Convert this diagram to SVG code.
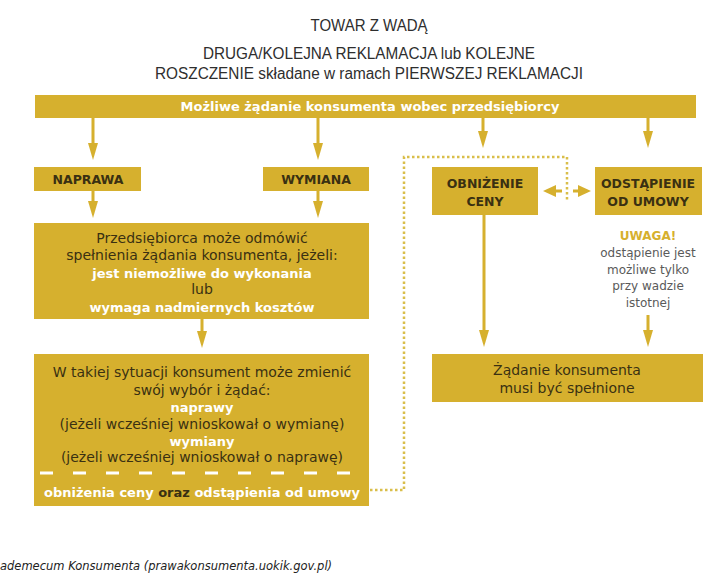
<svg xmlns="http://www.w3.org/2000/svg" width="718" height="583" viewBox="0 0 718 583">
<style>
.box{fill:#d6b02e}
.t{font-family:"DejaVu Sans",Verdana,sans-serif;font-size:14px;fill:#3a3012;text-anchor:middle}
.w{fill:#ffffff;font-weight:bold;font-size:13px}
.b{font-weight:bold;font-size:12.5px}
.h{font-family:"Liberation Sans",Arial,sans-serif;font-size:16px;fill:#2e2e2e;text-anchor:middle}
.g{fill:#5a5a5a;font-size:12px}
.ln{stroke:#d6b02e;stroke-width:3;fill:none}
.hd{fill:#d6b02e}
.dot{stroke:#d9be4a;stroke-width:2.5;fill:none;stroke-dasharray:2.5 2.5}
</style>
<rect width="718" height="583" fill="#ffffff"/>
<g id="title">
<text class="h" x="369" y="31" textLength="117" lengthAdjust="spacingAndGlyphs">TOWAR Z WADĄ</text>
<text class="h" x="369" y="59" textLength="332" lengthAdjust="spacingAndGlyphs">DRUGA/KOLEJNA REKLAMACJA lub KOLEJNE</text>
<text class="h" x="369" y="79" textLength="428" lengthAdjust="spacingAndGlyphs">ROSZCZENIE składane w ramach PIERWSZEJ REKLAMACJI</text>
</g>
<g id="bar">
<rect class="box" x="35" y="95" width="661" height="23"/>
<text class="t w" x="370" y="111">Możliwe żądanie konsumenta wobec przedsiębiorcy</text>
</g>
<g id="naprawa">
<rect class="box" x="34" y="167" width="107" height="24"/>
<text class="t b" x="88" y="184">NAPRAWA</text>
</g>
<g id="wymiana">
<rect class="box" x="263" y="167" width="106" height="24"/>
<text class="t b" x="316" y="184">WYMIANA</text>
</g>
<g id="obnizenie">
<rect class="box" x="432" y="167" width="106" height="48"/>
<text class="t b" x="485" y="188">OBNIŻENIE</text>
<text class="t b" x="485" y="206">CENY</text>
</g>
<g id="odstapienie">
<rect class="box" x="595" y="167" width="107" height="48"/>
<text class="t b" x="648" y="188">ODSTĄPIENIE</text>
<text class="t b" x="648" y="206">OD UMOWY</text>
</g>
<g id="uwaga">
<text class="t b" x="648" y="240" style="fill:#d6b02e;font-size:12px">UWAGA!</text>
<text class="t g" x="648" y="257">odstąpienie jest</text>
<text class="t g" x="648" y="274">możliwe tylko</text>
<text class="t g" x="648" y="290">przy wadzie</text>
<text class="t g" x="648" y="307">istotnej</text>
</g>
<g id="odmowa">
<rect class="box" x="34" y="223" width="335" height="96"/>
<text class="t" x="202" y="243">Przedsiębiorca może odmówić</text>
<text class="t" x="202" y="260">spełnienia żądania konsumenta, jeżeli:</text>
<text class="t w" x="202" y="278">jest niemożliwe do wykonania</text>
<text class="t" x="202" y="294">lub</text>
<text class="t w" x="202" y="312">wymaga nadmiernych kosztów</text>
</g>
<g id="zmiana">
<rect class="box" x="34" y="354" width="335" height="152"/>
<text class="t" x="202" y="377">W takiej sytuacji konsument może zmienić</text>
<text class="t" x="202" y="395">swój wybór i żądać:</text>
<text class="t w" x="202" y="412">naprawy</text>
<text class="t" x="202" y="429">(jeżeli wcześniej wnioskował o wymianę)</text>
<text class="t w" x="202" y="446">wymiany</text>
<text class="t" x="202" y="462">(jeżeli wcześniej wnioskował o naprawę)</text>
<line x1="34" y1="473" x2="369" y2="473" stroke="#ffffff" stroke-width="3" stroke-dasharray="13 20" stroke-dashoffset="-6"/>
<text class="t w" x="202" y="497">obniżenia ceny <tspan style="fill:#3a3012">oraz</tspan> odstąpienia od umowy</text>
</g>
<g id="spelnione">
<rect class="box" x="432" y="354" width="271" height="48"/>
<text class="t" x="567" y="375">Żądanie konsumenta</text>
<text class="t" x="567" y="393">musi być spełnione</text>
</g>
<g id="connectors">
<path class="ln" d="M93,118V144M318,118V144M483,118V132M648,118V132M93,191V202M318,191V202M202,319V332M484,215V331M648,315V331"/>
<polygon class="hd" points="88,143 98,143 93,160"/>
<polygon class="hd" points="313,143 323,143 318,160"/>
<polygon class="hd" points="478,131 488,131 483,148"/>
<polygon class="hd" points="643,131 653,131 648,148"/>
<polygon class="hd" points="88,201 98,201 93,218"/>
<polygon class="hd" points="313,201 323,201 318,218"/>
<polygon class="hd" points="197,331 207,331 202,348"/>
<polygon class="hd" points="479,330 489,330 484,347"/>
<polygon class="hd" points="643,330 653,330 648,347"/>
<path class="dot" d="M370,490H404V157H567V200"/>
<path class="ln" d="M555,191H562M573,191H580"/>
<polygon class="hd" points="543,191 556,185 556,197"/>
<polygon class="hd" points="591,191 578,185 578,197"/>
</g>
<g id="footer">
<text x="0" y="570" style="font-family:'DejaVu Sans',Verdana,sans-serif;font-size:11.5px;font-style:italic;fill:#222">ademecum Konsumenta (prawakonsumenta.uokik.gov.pl)</text>
</g>
</svg>
